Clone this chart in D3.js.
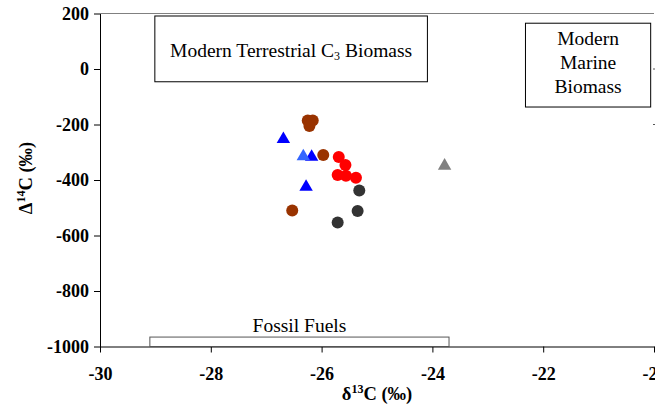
<!DOCTYPE html>
<html>
<head>
<meta charset="utf-8">
<script src="https://cdn.jsdelivr.net/npm/d3@7"></script>
<style>
  body { margin: 0; background: #fff; }
  svg text { font-family: "Liberation Serif", Tinos, "Times New Roman", "DejaVu Serif", serif !important; }
</style>
</head>
<body>
<svg width="655" height="406"></svg>
<script>
// d13C (x) and D14C (y) per sample group
var brown_pts = [[-26.25, -186], [-26.16, -186], [-26.22, -205], [-25.97, -310], [-26.53, -510]];
var red_pts = [[-25.69, -317], [-25.57, -346], [-25.71, -382], [-25.56, -385], [-25.38, -392]];
var dark_pts = [[-25.32, -438], [-25.35, -512], [-25.71, -553]];
var blue_pts = [[-26.69, -253], [-26.18, -317], [-26.28, -425]];
var light_blue_pts = [[-26.33, -315]];
var gray_pts = [[-23.78, -349]];

var x_ticks = [-30, -28, -26, -24, -22, -20];
var y_ticks = [200, 0, -200, -400, -600, -800, -1000];
var right_stub_ticks = [0, -200];

// source boxes: [x0, x1, y0, y1]
var terrestrial_box = [-29.01, -24.09, 191, -46];
var marine_box = [-22.32, -20.06, 165, -137];
var fossil_box = [-29.1, -23.7, -966, -1000];
var marine_lines = ["Modern", "Marine", "Biomass"];

var svg = d3.select("svg");

var x = d3.scaleLinear().domain([-30, -20]).range([100, 654]);
var y = d3.scaleLinear().domain([-1000, 200]).range([346.5, 13.5]);

// top frame of the plot area
svg.append("line")
  .attr("x1", x(-30)).attr("x2", x(-20))
  .attr("y1", y(200)).attr("y2", y(200))
  .attr("stroke", "#808080").attr("stroke-width", 1);

// stubs of the cut-off right side
svg.selectAll(".stub")
  .data(right_stub_ticks)
  .enter().append("line")
  .attr("x1", x(-20) - 1).attr("x2", x(-20) + 2)
  .attr("y1", function(d) { return y(d); })
  .attr("y2", function(d) { return y(d); })
  .attr("stroke", "#555");

var x_axis = svg.append("g")
  .attr("transform", "translate(0," + y(-1000) + ")")
  .call(d3.axisBottom(x).tickValues(x_ticks).tickSize(6).tickSizeOuter(0).tickPadding(15)
    .tickFormat(d3.format("d")));

var y_axis = svg.append("g")
  .attr("transform", "translate(" + x(-30) + ",0)")
  .call(d3.axisLeft(y).tickValues(y_ticks).tickSize(6).tickSizeOuter(0).tickPadding(5)
    .tickFormat(d3.format("d")));

[x_axis, y_axis].forEach(function(g) {
  g.attr("font-family", null);
  g.selectAll("text")
    .attr("font-size", 18)
    .attr("font-weight", "bold")
    .attr("fill", "#000")
    .text(function(d) { return String(d).replace("\u2212", "-"); });
  g.selectAll("line, path").attr("stroke", "#000");
});

// boxes
function draw_box(b, stroke_top) {
  svg.append("rect")
    .attr("x", x(b[0])).attr("y", y(b[2]))
    .attr("width", x(b[1]) - x(b[0]))
    .attr("height", y(b[3]) - y(b[2]))
    .attr("fill", "#fff")
    .attr("stroke", stroke_top || "#000")
    .attr("stroke-width", 1);
}

draw_box(terrestrial_box);
draw_box(marine_box);
draw_box(fossil_box, "#555");

var t_label = svg.append("text")
  .attr("x", (x(terrestrial_box[0]) + x(terrestrial_box[1])) / 2)
  .attr("y", (y(terrestrial_box[2]) + y(terrestrial_box[3])) / 2 + 8)
  .attr("text-anchor", "middle")
  .attr("font-size", 19.5);
t_label.append("tspan").text("Modern Terrestrial C");
t_label.append("tspan").attr("font-size", 12).attr("dy", 3).text("3");
t_label.append("tspan").attr("dy", -3).text(" Biomass");

svg.selectAll(".marine")
  .data(marine_lines)
  .enter().append("text")
  .attr("x", (x(marine_box[0]) + x(marine_box[1])) / 2)
  .attr("y", function(d, i) { return y(marine_box[2]) + 22 + i * 24; })
  .attr("text-anchor", "middle")
  .attr("font-size", 19.5)
  .text(function(d) { return d; });

svg.append("text")
  .attr("x", (x(fossil_box[0]) + x(fossil_box[1])) / 2)
  .attr("y", y(fossil_box[2]) - 5)
  .attr("text-anchor", "middle")
  .attr("font-size", 19.5)
  .text("Fossil Fuels");

// axis titles
var x_title = svg.append("text")
  .attr("x", (x(-30) + x(-20)) / 2)
  .attr("y", 400)
  .attr("text-anchor", "middle")
  .attr("font-size", 18.5)
  .attr("font-weight", "bold");
x_title.append("tspan").text("\u03b4");
x_title.append("tspan").attr("font-size", 12).attr("dy", -7).text("13");
x_title.append("tspan").attr("dy", 7).text("C (\u2030)");

var y_title = svg.append("text")
  .attr("transform", "translate(32,178) rotate(-90)")
  .attr("text-anchor", "middle")
  .attr("font-size", 18.5)
  .attr("font-weight", "bold");
y_title.append("tspan").text("\u0394");
y_title.append("tspan").attr("font-size", 12).attr("dy", -7).text("14");
y_title.append("tspan").attr("dy", 7).text("C (\u2030)");

// points
function draw_circles(pts, color) {
  svg.append("g").selectAll("circle")
    .data(pts)
    .enter().append("circle")
    .attr("cx", function(d) { return x(d[0]); })
    .attr("cy", function(d) { return y(d[1]); })
    .attr("r", 6)
    .attr("fill", color);
}

function draw_triangles(pts, color) {
  svg.append("g").selectAll("path")
    .data(pts)
    .enter().append("path")
    .attr("d", d3.symbol().type(d3.symbolTriangle).size(78))
    .attr("transform", function(d) { return "translate(" + x(d[0]) + "," + y(d[1]) + ")"; })
    .attr("fill", color);
}

draw_circles(brown_pts, "#993300");
draw_circles(dark_pts, "#333333");
draw_circles(red_pts, "#ff0000");
draw_triangles(blue_pts, "#0000ff");
draw_triangles(light_blue_pts, "#3366ff");
draw_triangles(gray_pts, "#808080");
</script>
</body>
</html>
